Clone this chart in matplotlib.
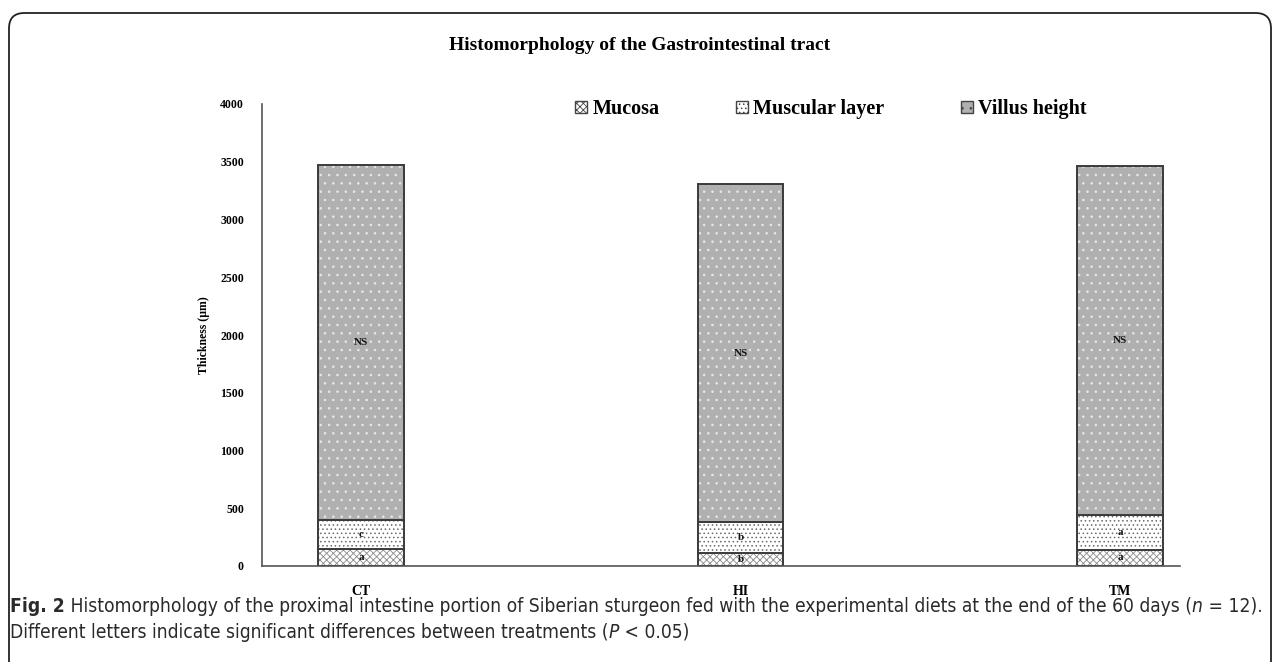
import matplotlib
matplotlib.use("Agg")
import matplotlib.pyplot as plt
from matplotlib import font_manager
import numpy as np
from matplotlib.patches import FancyBboxPatch, Patch

# ==========================================
# DATA
# ==========================================
groups = ["CT", "HI", "TM"]
mucosa = [150, 110, 140]
muscular = [250, 270, 300]
villus = [3075, 2925, 3020]
mucosa_letters = ["a", "b", "a"]
muscular_letters = ["c", "b", "a"]
villus_letters = ["NS", "NS", "NS"]
yticks = [0, 500, 1000, 1500, 2000, 2500, 3000, 3500, 4000]

SERIF = ["Liberation Serif", "DejaVu Serif"]

# caption font: pick a narrow/condensed sans if one is installed
names = {f.name for f in font_manager.fontManager.ttflist}
cond = [f for f in font_manager.fontManager.ttflist
        if f.name == "DejaVu Sans" and "Condensed" in f.fname]
if "Liberation Sans Narrow" in names:
    CAP = dict(family=["Liberation Sans Narrow", "DejaVu Sans"], fontsize=15)
elif cond:
    CAP = dict(family=["DejaVu Sans"], fontstretch="condensed", fontsize=13.8)
else:
    CAP = dict(family=["Liberation Sans", "DejaVu Sans"], fontsize=13.8)

plt.rcParams["hatch.linewidth"] = 0.6

fig = plt.figure(figsize=(12.81, 6.62), dpi=100)
ax = fig.add_axes([262 / 1281, 1 - 566 / 662, 918 / 1281, 462 / 662])

x = np.arange(len(groups))
w = 0.224
edge = "#3a3a3a"

layers = [
    (mucosa, "white", "#8a8a8a", "xxxxx", "Mucosa", mucosa_letters),
    (muscular, "white", "#6a6a6a", "....", "Muscular layer", muscular_letters),
    (villus, "#b0b0b0", "#e8e8e8", "..", "Villus height", villus_letters),
]

bottom = np.zeros(len(groups))
handles = []
for vals, fc, hc, hatch, name, letters in layers:
    vals = np.array(vals, dtype=float)
    # hatch layer (hatch takes the edge colour), then the outline on top
    ax.bar(x, vals, w, bottom=bottom, color=fc, edgecolor=hc, hatch=hatch, linewidth=0)
    ax.bar(x, vals, w, bottom=bottom, color="none", edgecolor=edge, linewidth=1.4)
    for xi, b, v, lab in zip(x, bottom, vals, letters):
        ax.text(xi, b + v / 2, lab, ha="center", va="center", fontsize=8,
                fontweight="bold", family=SERIF, color="#111111")
    handles.append(Patch(facecolor=fc, edgecolor=hc, hatch=hatch, label=name))
    bottom += vals

ax.set_xlim(-99 / 379.5, 2 + 60 / 379.5)
ax.set_ylim(0, 4000)
ax.set_yticks(yticks)
ax.set_xticks(x)
ax.set_xticklabels(groups)
ax.tick_params(length=0)
ax.tick_params(axis="y", pad=13)
ax.tick_params(axis="x", pad=14)
for lab in ax.get_yticklabels():
    lab.set_fontproperties({"family": SERIF, "weight": "bold", "size": 8.5})
for lab in ax.get_xticklabels():
    lab.set_fontproperties({"family": SERIF, "weight": "bold", "size": 10})
for side in ["top", "right"]:
    ax.spines[side].set_visible(False)
for side in ["left", "bottom"]:
    ax.spines[side].set_color("#555555")
    ax.spines[side].set_linewidth(1.2)
ax.set_ylabel("Thickness (\u00b5m)", family=SERIF, fontweight="bold", fontsize=8.5, labelpad=7)

leg = ax.legend(handles=handles, loc="upper right", bbox_to_anchor=(0.918, 1.05), ncol=3,
                frameon=False, handlelength=0.6, handleheight=0.6, handletextpad=0.25,
                columnspacing=3.8, prop={"family": SERIF, "weight": "bold", "size": 14.5})
for hp in leg.legend_handles:
    hp.set_edgecolor("#444444")

fig.text(640 / 1281, 1 - 45 / 662, "Histomorphology of the Gastrointestinal tract",
         ha="center", va="center", family=SERIF, fontweight="bold", fontsize=14)

# caption, pieces chained so italics sit inline
col = "#2a2a2a"
t = fig.text(10 / 1281, 1 - 606 / 662, "Fig. 2", fontweight="bold", va="center", color=col, **CAP)
last = t
for s, style in [
    (" Histomorphology of the proximal intestine portion of Siberian sturgeon fed with the experimental diets at the end of the 60 days (", "normal"),
    ("n", "italic"),
    (" = 12).", "normal"),
]:
    last = ax.annotate(s, xy=(1, 0.5), xycoords=last, va="center", ha="left", style=style,
                       color=col, annotation_clip=False, **CAP)

t2 = fig.text(10 / 1281, 1 - 632 / 662,
              "Different letters indicate significant differences between treatments (",
              va="center", color=col, **CAP)
last = t2
for s, style in [("P", "italic"), (" < 0.05)", "normal")]:
    last = ax.annotate(s, xy=(1, 0.5), xycoords=last, va="center", ha="left", style=style,
                       color=col, annotation_clip=False, **CAP)

frame = FancyBboxPatch((9 / 1281, -0.05), 1262 / 1281, 1 - 13 / 662 + 0.05,
                       boxstyle="round,pad=0,rounding_size=0.012", transform=fig.transFigure,
                       fill=False, edgecolor="#222222", linewidth=1.3, mutation_aspect=1281 / 662)
fig.patches.append(frame)

fig.savefig("out.png", dpi=100)
